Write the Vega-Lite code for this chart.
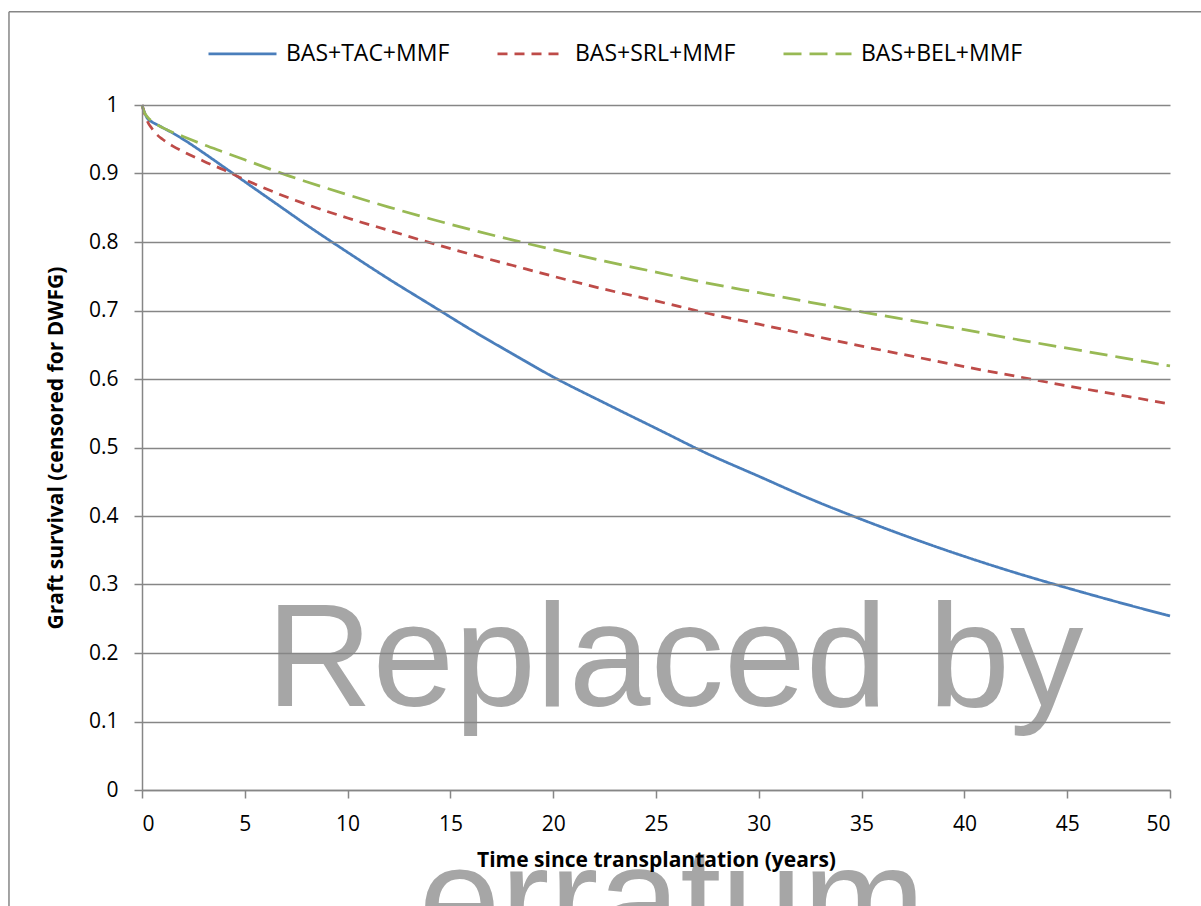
{
  "$schema": "https://vega.github.io/schema/vega-lite/v6.json",
  "width": 1028,
  "height": 685,
  "autosize": "none",
  "padding": {"left": 142, "top": 105, "right": 31, "bottom": 116},
  "background": "white",
  "config": {
    "view": {"stroke": null},
    "font": "Open Sans",
    "axis": {
      "domainColor": "#868686",
      "domainWidth": 1.5,
      "tickColor": "#868686",
      "tickWidth": 1.5,
      "tickSize": 8,
      "gridColor": "#868686",
      "gridWidth": 1.5,
      "labelFont": "Open Sans",
      "labelFontSize": 21,
      "labelColor": "#000000",
      "titleFont": "Open Sans",
      "titleFontSize": 21,
      "titleFontWeight": "bold",
      "titleColor": "#000000"
    }
  },
  "datasets": {
    "one": [{}],
    "curves": [
      {"t": 0, "s": 1, "g": "BAS+TAC+MMF"},
      {"t": 0.25, "s": 0.981, "g": "BAS+TAC+MMF"},
      {"t": 0.5, "s": 0.975, "g": "BAS+TAC+MMF"},
      {"t": 0.75, "s": 0.971, "g": "BAS+TAC+MMF"},
      {"t": 1, "s": 0.967, "g": "BAS+TAC+MMF"},
      {"t": 1.5, "s": 0.959, "g": "BAS+TAC+MMF"},
      {"t": 2, "s": 0.95, "g": "BAS+TAC+MMF"},
      {"t": 3, "s": 0.93, "g": "BAS+TAC+MMF"},
      {"t": 4, "s": 0.909, "g": "BAS+TAC+MMF"},
      {"t": 5, "s": 0.888, "g": "BAS+TAC+MMF"},
      {"t": 6, "s": 0.867, "g": "BAS+TAC+MMF"},
      {"t": 7, "s": 0.846, "g": "BAS+TAC+MMF"},
      {"t": 8, "s": 0.825, "g": "BAS+TAC+MMF"},
      {"t": 10, "s": 0.785, "g": "BAS+TAC+MMF"},
      {"t": 12, "s": 0.746, "g": "BAS+TAC+MMF"},
      {"t": 14, "s": 0.709, "g": "BAS+TAC+MMF"},
      {"t": 16, "s": 0.672, "g": "BAS+TAC+MMF"},
      {"t": 18, "s": 0.637, "g": "BAS+TAC+MMF"},
      {"t": 20, "s": 0.603, "g": "BAS+TAC+MMF"},
      {"t": 22.5, "s": 0.565, "g": "BAS+TAC+MMF"},
      {"t": 25, "s": 0.528, "g": "BAS+TAC+MMF"},
      {"t": 27.5, "s": 0.491, "g": "BAS+TAC+MMF"},
      {"t": 30, "s": 0.458, "g": "BAS+TAC+MMF"},
      {"t": 32.5, "s": 0.425, "g": "BAS+TAC+MMF"},
      {"t": 35, "s": 0.395, "g": "BAS+TAC+MMF"},
      {"t": 37.5, "s": 0.367, "g": "BAS+TAC+MMF"},
      {"t": 40, "s": 0.341, "g": "BAS+TAC+MMF"},
      {"t": 42.5, "s": 0.317, "g": "BAS+TAC+MMF"},
      {"t": 45, "s": 0.295, "g": "BAS+TAC+MMF"},
      {"t": 47.5, "s": 0.274, "g": "BAS+TAC+MMF"},
      {"t": 50, "s": 0.254, "g": "BAS+TAC+MMF"},
      {"t": 0, "s": 1, "g": "BAS+SRL+MMF"},
      {"t": 0.1, "s": 0.99, "g": "BAS+SRL+MMF"},
      {"t": 0.25, "s": 0.977, "g": "BAS+SRL+MMF"},
      {"t": 0.5, "s": 0.965, "g": "BAS+SRL+MMF"},
      {"t": 0.75, "s": 0.956, "g": "BAS+SRL+MMF"},
      {"t": 1, "s": 0.95, "g": "BAS+SRL+MMF"},
      {"t": 1.5, "s": 0.94, "g": "BAS+SRL+MMF"},
      {"t": 2, "s": 0.932, "g": "BAS+SRL+MMF"},
      {"t": 3, "s": 0.918, "g": "BAS+SRL+MMF"},
      {"t": 4, "s": 0.905, "g": "BAS+SRL+MMF"},
      {"t": 5, "s": 0.891, "g": "BAS+SRL+MMF"},
      {"t": 6, "s": 0.878, "g": "BAS+SRL+MMF"},
      {"t": 7, "s": 0.866, "g": "BAS+SRL+MMF"},
      {"t": 8, "s": 0.855, "g": "BAS+SRL+MMF"},
      {"t": 10, "s": 0.835, "g": "BAS+SRL+MMF"},
      {"t": 12, "s": 0.817, "g": "BAS+SRL+MMF"},
      {"t": 14, "s": 0.799, "g": "BAS+SRL+MMF"},
      {"t": 16, "s": 0.782, "g": "BAS+SRL+MMF"},
      {"t": 18, "s": 0.766, "g": "BAS+SRL+MMF"},
      {"t": 20, "s": 0.75, "g": "BAS+SRL+MMF"},
      {"t": 22.5, "s": 0.731, "g": "BAS+SRL+MMF"},
      {"t": 25, "s": 0.714, "g": "BAS+SRL+MMF"},
      {"t": 27.5, "s": 0.696, "g": "BAS+SRL+MMF"},
      {"t": 30, "s": 0.68, "g": "BAS+SRL+MMF"},
      {"t": 32.5, "s": 0.664, "g": "BAS+SRL+MMF"},
      {"t": 35, "s": 0.648, "g": "BAS+SRL+MMF"},
      {"t": 37.5, "s": 0.633, "g": "BAS+SRL+MMF"},
      {"t": 40, "s": 0.618, "g": "BAS+SRL+MMF"},
      {"t": 42.5, "s": 0.604, "g": "BAS+SRL+MMF"},
      {"t": 45, "s": 0.59, "g": "BAS+SRL+MMF"},
      {"t": 47.5, "s": 0.577, "g": "BAS+SRL+MMF"},
      {"t": 50, "s": 0.5635, "g": "BAS+SRL+MMF"},
      {"t": 0, "s": 1, "g": "BAS+BEL+MMF"},
      {"t": 0.1, "s": 0.99, "g": "BAS+BEL+MMF"},
      {"t": 0.25, "s": 0.983, "g": "BAS+BEL+MMF"},
      {"t": 0.5, "s": 0.976, "g": "BAS+BEL+MMF"},
      {"t": 0.75, "s": 0.971, "g": "BAS+BEL+MMF"},
      {"t": 1, "s": 0.967, "g": "BAS+BEL+MMF"},
      {"t": 1.5, "s": 0.96, "g": "BAS+BEL+MMF"},
      {"t": 2, "s": 0.954, "g": "BAS+BEL+MMF"},
      {"t": 3, "s": 0.942, "g": "BAS+BEL+MMF"},
      {"t": 4, "s": 0.931, "g": "BAS+BEL+MMF"},
      {"t": 5, "s": 0.92, "g": "BAS+BEL+MMF"},
      {"t": 6, "s": 0.909, "g": "BAS+BEL+MMF"},
      {"t": 7, "s": 0.898, "g": "BAS+BEL+MMF"},
      {"t": 8, "s": 0.888, "g": "BAS+BEL+MMF"},
      {"t": 10, "s": 0.869, "g": "BAS+BEL+MMF"},
      {"t": 12, "s": 0.851, "g": "BAS+BEL+MMF"},
      {"t": 14, "s": 0.834, "g": "BAS+BEL+MMF"},
      {"t": 16, "s": 0.818, "g": "BAS+BEL+MMF"},
      {"t": 18, "s": 0.803, "g": "BAS+BEL+MMF"},
      {"t": 20, "s": 0.789, "g": "BAS+BEL+MMF"},
      {"t": 22.5, "s": 0.772, "g": "BAS+BEL+MMF"},
      {"t": 25, "s": 0.756, "g": "BAS+BEL+MMF"},
      {"t": 27.5, "s": 0.74, "g": "BAS+BEL+MMF"},
      {"t": 30, "s": 0.726, "g": "BAS+BEL+MMF"},
      {"t": 32.5, "s": 0.712, "g": "BAS+BEL+MMF"},
      {"t": 35, "s": 0.698, "g": "BAS+BEL+MMF"},
      {"t": 37.5, "s": 0.685, "g": "BAS+BEL+MMF"},
      {"t": 40, "s": 0.672, "g": "BAS+BEL+MMF"},
      {"t": 42.5, "s": 0.658, "g": "BAS+BEL+MMF"},
      {"t": 45, "s": 0.645, "g": "BAS+BEL+MMF"},
      {"t": 47.5, "s": 0.632, "g": "BAS+BEL+MMF"},
      {"t": 50, "s": 0.619, "g": "BAS+BEL+MMF"}
    ]
  },
  "layer": [
    {
      "data": {"name": "one"},
      "mark": {"type": "rule", "color": "#868686", "strokeWidth": 1.5, "clip": false},
      "encoding": {
        "x": {"datum": -6.47, "type": "quantitative", "scale": {"domain": [0, 50], "nice": false}},
        "y": {"datum": 1.136, "type": "quantitative", "scale": {"domain": [0, 1], "nice": false}},
        "y2": {"datum": -0.3}
      }
    },
    {
      "data": {"name": "one"},
      "mark": {"type": "rule", "color": "#868686", "strokeWidth": 1.5, "clip": false},
      "encoding": {
        "x": {"datum": -6.47, "type": "quantitative", "scale": {"domain": [0, 50], "nice": false}},
        "x2": {"datum": 56},
        "y": {"datum": 1.136, "type": "quantitative", "scale": {"domain": [0, 1], "nice": false}}
      }
    },
    {
      "data": {"name": "curves"},
      "mark": {"type": "line", "interpolate": "monotone", "strokeWidth": 2.75, "strokeCap": "butt"},
      "encoding": {
        "x": {
          "field": "t", "type": "quantitative",
          "scale": {"domain": [0, 50], "nice": false},
          "axis": {
            "values": [0, 5, 10, 15, 20, 25, 30, 35, 40, 45, 50],
            "format": "d",
            "grid": false,
            "zindex": 1,
            "labelPadding": 15,
            "title": "Time since transplantation (years)",
            "titlePadding": 15
          }
        },
        "y": {
          "field": "s", "type": "quantitative",
          "scale": {"domain": [0, 1], "nice": false},
          "axis": {
            "values": [0, 0.1, 0.2, 0.3, 0.4, 0.5, 0.6, 0.7, 0.8, 0.9, 1],
            "format": "~g",
            "grid": true,
            "zindex": 1,
            "labelPadding": 16,
            "title": "Graft survival (censored for DWFG)",
            "titlePadding": 22
          }
        },
        "color": {
          "field": "g", "type": "nominal",
          "scale": {"domain": ["BAS+TAC+MMF", "BAS+SRL+MMF", "BAS+BEL+MMF"], "range": ["#4a7ebb", "#be4b48", "#98b954"]},
          "legend": {
            "orient": "none",
            "legendX": 65,
            "legendY": -87,
            "direction": "horizontal",
            "title": null,
            "symbolType": "stroke",
            "symbolSize": 4624,
            "symbolStrokeWidth": 2.75,
            "labelFont": "Open Sans",
            "labelFontSize": 23,
            "labelColor": "#000000",
            "labelLimit": 400,
            "labelOffset": 8,
            "columnPadding": 42
          }
        },
        "strokeDash": {
          "field": "g", "type": "nominal",
          "scale": {"domain": ["BAS+TAC+MMF", "BAS+SRL+MMF", "BAS+BEL+MMF"], "range": [[1, 0], [10, 7], [18, 8]]},
          "legend": {
            "orient": "none",
            "legendX": 65,
            "legendY": -87,
            "direction": "horizontal",
            "title": null,
            "symbolType": "stroke",
            "symbolSize": 4624,
            "symbolStrokeWidth": 2.75,
            "labelFont": "Open Sans",
            "labelFontSize": 23,
            "labelColor": "#000000",
            "labelLimit": 400,
            "labelOffset": 8,
            "columnPadding": 42
          }
        }
      }
    },
    {
      "data": {"name": "one"},
      "mark": {"type": "text", "font": "Liberation Sans", "fontSize": 147, "color": "#a6a6a6", "align": "center", "baseline": "alphabetic", "clip": false},
      "encoding": {
        "x": {"datum": 25.92, "type": "quantitative", "scale": {"domain": [0, 50], "nice": false}},
        "y": {"datum": 0.1226, "type": "quantitative", "scale": {"domain": [0, 1], "nice": false}},
        "text": {"value": "Replaced by"}
      }
    },
    {
      "data": {"name": "one"},
      "mark": {"type": "text", "font": "Liberation Sans", "fontSize": 147, "color": "#a6a6a6", "align": "center", "baseline": "alphabetic", "clip": false},
      "encoding": {
        "x": {"datum": 25.78, "type": "quantitative", "scale": {"domain": [0, 50], "nice": false}},
        "y": {"datum": -0.232, "type": "quantitative", "scale": {"domain": [0, 1], "nice": false}},
        "text": {"value": "erratum"}
      }
    }
  ]
}
